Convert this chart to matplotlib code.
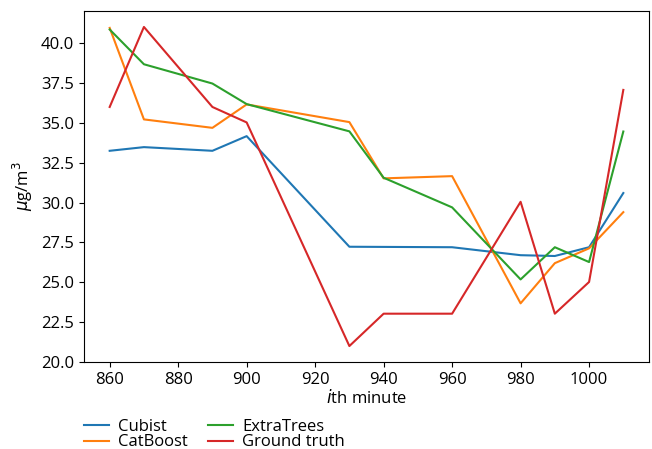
import matplotlib
matplotlib.use("Agg")
import matplotlib.pyplot as plt

plt.rcParams['font.family'] = ['Open Sans', 'DejaVu Sans']
plt.rcParams['mathtext.fontset'] = 'dejavusans'

minutes = [860, 870, 890, 900, 930, 940, 960, 980, 990, 1000, 1010]
cubist = [33.25, 33.48, 33.25, 34.17, 27.23, 27.22, 27.2, 26.7, 26.65, 27.2, 30.6]
catboost = [40.96, 35.22, 34.69, 36.16, 35.05, 31.52, 31.66, 23.68, 26.2, 27.13, 29.4]
extratrees = [40.86, 38.68, 37.47, 36.18, 34.47, 31.56, 29.7, 25.18, 27.2, 26.27, 34.46]
ground_truth = [36.0, 41.02, 36.0, 35.03, 21.0, 23.03, 23.03, 30.05, 23.03, 25.02, 37.07]

series = [("Cubist", cubist), ("CatBoost", catboost),
          ("ExtraTrees", extratrees), ("Ground truth", ground_truth)]

fig = plt.figure(figsize=(6.52, 4.49), dpi=100)
ax = fig.add_axes([84/652, 1-362/449, (649-84)/652, (362-11)/449])
for name, vals in series:
    ax.plot(minutes, vals, label=name, linewidth=1.5)

ax.set_xticks([860, 880, 900, 920, 940, 960, 980, 1000])
ax.set_yticks([20.0, 22.5, 25.0, 27.5, 30.0, 32.5, 35.0, 37.5, 40.0])
ax.tick_params(labelsize=12)
ax.set_ylabel(r"$\mu$g/m$^3$", fontsize=12)
ax.set_xlabel(r"$i$th minute", fontsize=12, labelpad=1)

fig.legend(loc='upper left', bbox_to_anchor=(84/652, 1-419/449), ncol=2,
           frameon=False, fontsize=12, borderpad=0, borderaxespad=0,
           handlelength=1.5, handletextpad=0.55, columnspacing=1.2,
           labelspacing=-0.04)

fig.savefig("out.png", dpi=100)
